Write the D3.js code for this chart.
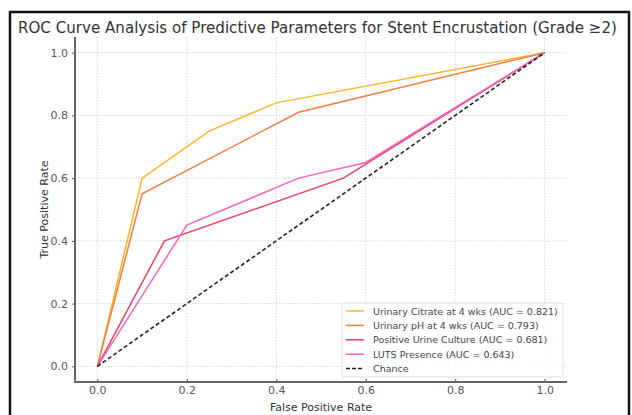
<!DOCTYPE html>
<html>
<head>
<meta charset="utf-8">
<script src="https://cdn.jsdelivr.net/npm/d3@7"></script>
<style>
  body { margin: 0; background: #fff; }
  text { font-family: "DejaVu Sans", sans-serif; }
</style>
</head>
<body>
<script>
// ROC data
const citrateFpr = [0, 0.1, 0.25, 0.4, 1];
const citrateTpr = [0, 0.6, 0.75, 0.84, 1];
const phFpr = [0, 0.1, 0.45, 1];
const phTpr = [0, 0.55, 0.81, 1];
const cultureFpr = [0, 0.15, 0.55, 1];
const cultureTpr = [0, 0.4, 0.6, 1];
const lutsFpr = [0, 0.2, 0.45, 0.6, 1];
const lutsTpr = [0, 0.45, 0.6, 0.65, 1];
const chanceFpr = [0, 1];
const chanceTpr = [0, 1];

const seriesNames = [
	"Urinary Citrate at 4 wks (AUC = 0.821)",
	"Urinary pH at 4 wks (AUC = 0.793)",
	"Positive Urine Culture (AUC = 0.681)",
	"LUTS Presence (AUC = 0.643)",
	"Chance",
];
const seriesColors = ["#fbb52a", "#f27d3d", "#eb4065", "#f263c6", "#222"];
const tickValues = [0, 0.2, 0.4, 0.6, 0.8, 1.0];

const width = 632;
const height = 415;

const svg = d3
	.select("body")
	.append("svg")
	.attr("width", width)
	.attr("height", height);

// outer frame
svg
	.append("rect")
	.attr("x", 10)
	.attr("y", 12)
	.attr("width", 619)
	.attr("height", 420)
	.style("fill", "#fff")
	.style("stroke", "#111")
	.style("stroke-width", 2.5);

svg
	.append("text")
	.attr("x", 18)
	.attr("y", 33)
	.attr("textLength", 599)
	.attr("lengthAdjust", "spacingAndGlyphs")
	.style("font-size", "15.5px")
	.style("fill", "#333")
	.text("ROC Curve Analysis of Predictive Parameters for Stent Encrustation (Grade \u22652)");

const plotLeft = 75;
const plotRight = 567;
const plotTop = 37;
const plotBottom = 382;

const x = d3.scaleLinear().domain([-0.05, 1.05]).range([plotLeft, plotRight]);
const y = d3.scaleLinear().domain([-0.05, 1.05]).range([plotBottom, plotTop]);

// grid
const grid = svg.append("g");
grid
	.selectAll("line.gx")
	.data(tickValues)
	.join("line")
	.attr("x1", (d) => x(d))
	.attr("x2", (d) => x(d))
	.attr("y1", plotTop)
	.attr("y2", plotBottom)
	.style("stroke", "#ccc")
	.style("stroke-width", 0.8)
	.style("stroke-dasharray", "1.5,1.5");
grid
	.selectAll("line.gy")
	.data(tickValues)
	.join("line")
	.attr("x1", plotLeft)
	.attr("x2", plotRight)
	.attr("y1", (d) => y(d))
	.attr("y2", (d) => y(d))
	.style("stroke", "#ccc")
	.style("stroke-width", 0.8)
	.style("stroke-dasharray", "1.5,1.5");

// axes
const xAxis = svg
	.append("g")
	.attr("transform", `translate(0,${plotBottom})`)
	.call(d3.axisBottom(x).tickValues(tickValues).tickFormat(d3.format(".1f")).tickSize(-3).tickPadding(4));
const yAxis = svg
	.append("g")
	.attr("transform", `translate(${plotLeft},0)`)
	.call(d3.axisLeft(y).tickValues(tickValues).tickFormat(d3.format(".1f")).tickSize(3).tickPadding(4));

[xAxis, yAxis].forEach((ax) => {
	ax.select(".domain").remove();
	ax.selectAll(".tick line").style("stroke", "#555").style("stroke-width", 1);
	ax.selectAll(".tick text")
		.style("font-size", "11px")
		.style("fill", "#555")
		.style("font-family", "DejaVu Sans, sans-serif");
});

// spines
svg
	.append("line")
	.attr("x1", plotLeft)
	.attr("x2", plotLeft)
	.attr("y1", plotTop)
	.attr("y2", plotBottom + 1)
	.style("stroke", "#666")
	.style("stroke-width", 2);
svg
	.append("line")
	.attr("x1", plotLeft - 1)
	.attr("x2", plotRight)
	.attr("y1", plotBottom)
	.attr("y2", plotBottom)
	.style("stroke", "#666")
	.style("stroke-width", 2);

svg
	.append("text")
	.attr("x", (plotLeft + plotRight) / 2)
	.attr("y", 411)
	.attr("text-anchor", "middle")
	.style("font-size", "11px")
	.style("fill", "#333")
	.text("False Positive Rate");

svg
	.append("text")
	.attr("transform", `translate(48,${(plotTop + plotBottom) / 2}) rotate(-90)`)
	.attr("text-anchor", "middle")
	.style("font-size", "11px")
	.style("fill", "#333")
	.text("True Positive Rate");

// curves
const curves = [
	[citrateFpr, citrateTpr],
	[phFpr, phTpr],
	[cultureFpr, cultureTpr],
	[lutsFpr, lutsTpr],
	[chanceFpr, chanceTpr],
];

const line = d3
	.line()
	.x((d) => x(d[0]))
	.y((d) => y(d[1]));

curves.forEach((c, i) => {
	const pts = c[0].map((fx, j) => [fx, c[1][j]]);
	svg
		.append("path")
		.datum(pts)
		.attr("d", line)
		.style("fill", "none")
		.style("stroke", seriesColors[i])
		.style("stroke-width", i === 4 ? 1.6 : 1.5)
		.style("stroke-dasharray", i === 4 ? "4,2.5" : null);
});

// legend
const legend = svg.append("g").attr("transform", "translate(342,303)");
legend
	.append("rect")
	.attr("width", 221)
	.attr("height", 74)
	.attr("rx", 2)
	.style("fill", "#fff")
	.style("fill-opacity", 0.85)
	.style("stroke", "#ddd")
	.style("stroke-width", 1);

seriesNames.forEach((name, i) => {
	const ly = 8 + i * 14.4;
	legend
		.append("line")
		.attr("x1", 4)
		.attr("x2", 22)
		.attr("y1", ly)
		.attr("y2", ly)
		.style("stroke", seriesColors[i])
		.style("stroke-width", 1.5)
		.style("stroke-dasharray", i === 4 ? "4,2" : null);
	legend
		.append("text")
		.attr("x", 31)
		.attr("y", ly + 3.5)
		.style("font-size", "9.5px")
		.style("fill", "#444")
		.text(name);
});
</script>
</body>
</html>
